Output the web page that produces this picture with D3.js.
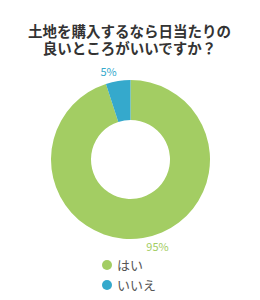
<!DOCTYPE html>
<html>
<head>
<meta charset="utf-8">
<script src="https://cdn.jsdelivr.net/npm/d3@7"></script>
<style>
	body { margin: 0; background: #fff; }
	text { font-family: "Noto Sans CJK JP", sans-serif; }
	text.title { font-family: "Liberation Sans", "Noto Sans CJK JP", sans-serif; }
</style>
</head>
<body>
<div id="chart"></div>
<script>
const titleLines = ["土地を購入するなら日当たりの", "良いところがいいですか？"]
const categories = ["はい", "いいえ"]
const values = [95, 5]
const colors = ["#a3cd63", "#35a9cc"]

const params = { width: 260, height: 300, cx: 130.5, cy: 159.5, outer: 79.5, inner: 39.5 }

const svg = d3.select("#chart")
	.append("svg")
	.attr("width", params.width)
	.attr("height", params.height)

// title
svg.append("g").selectAll("text")
	.data(titleLines)
	.join("text")
	.attr("class", "title")
	.attr("x", 129.5)
	.attr("y", (d, i) => 37 + i * 17)
	.attr("text-anchor", "middle")
	.attr("font-size", "14.5px")
	.attr("font-weight", "bold")
	.attr("fill", "#333")
	.text(d => d)

const data = categories.map((c, i) => ({ name: c, value: values[i], color: colors[i] }))

const pie = d3.pie().sort(null).value(d => d.value)
const arc = d3.arc().innerRadius(params.inner).outerRadius(params.outer)
const labelArc = d3.arc().innerRadius(params.outer + 9).outerRadius(params.outer + 9)

const g = svg.append("g")
	.attr("transform", `translate(${params.cx}, ${params.cy})`)

const arcs = pie(data)

g.selectAll("path")
	.data(arcs)
	.join("path")
	.attr("d", arc)
	.attr("fill", d => d.data.color)

g.selectAll(".label")
	.data(arcs)
	.join("text")
	.attr("class", "label")
	.attr("transform", d => {
		const [x, y] = labelArc.centroid(d)
		const mid = (d.startAngle + d.endAngle) / 2
		return `translate(${x + (mid > Math.PI ? 0 : 2)}, ${y + 4})`
	})
	.attr("text-anchor", d => ((d.startAngle + d.endAngle) / 2 > Math.PI ? "end" : "start"))
	.attr("font-size", "11px")
	.attr("fill", d => d.data.color)
	.text(d => d.data.value + "%")

// legend
const legend = svg.append("g").selectAll("g")
	.data(data)
	.join("g")
	.attr("transform", (d, i) => `translate(107, ${265 + i * 20})`)

legend.append("circle")
	.attr("r", 5)
	.attr("fill", d => d.color)

legend.append("text")
	.attr("x", 10)
	.attr("y", 5)
	.attr("font-size", "13px")
	.attr("fill", "#555")
	.text(d => d.name)
</script>
</body>
</html>
